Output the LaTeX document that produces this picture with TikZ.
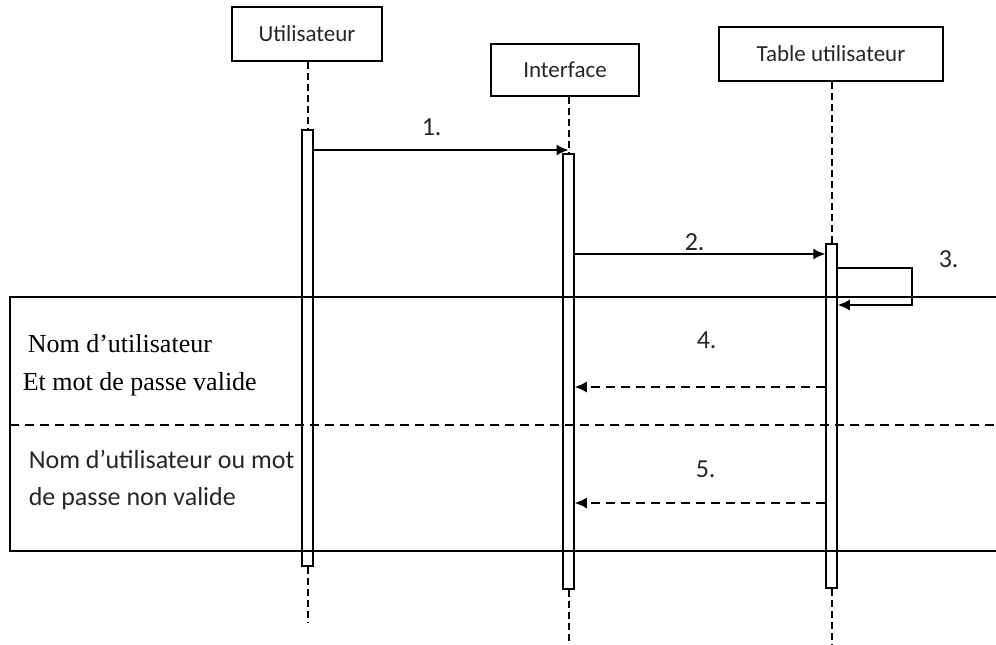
\documentclass[tikz,border=0pt]{standalone}
\usepackage{fontspec}
\setmainfont{Carlito}
\newfontfamily\timesfam{Liberation Serif}
\usetikzlibrary{arrows.meta}
\begin{document}
\begin{tikzpicture}[x=1pt,y=-1pt,
  line width=1.6pt,
  actor/.style={draw, rectangle, inner sep=0pt, line width=1.8pt, text=black!85, font=\fontsize{23}{27}\selectfont},
  bar/.style={draw, rectangle, minimum width=11pt, inner sep=0pt, line width=1.5pt},
  lifeline/.style={line width=2pt, dash pattern=on 7pt off 4pt},
  msg/.style={-{Latex[length=12pt,width=11pt]}},
  reply/.style={msg, dash pattern=on 9pt off 6pt},
  num/.style={anchor=base west, inner sep=0pt, text=black!85, font=\fontsize{26}{30}\selectfont},
  guard/.style={anchor=base west, inner sep=0pt, text=black!85, font=\fontsize{26}{30}\selectfont},
  guardserif/.style={anchor=base west, inner sep=0pt, font=\timesfam\fontsize{26}{30}\selectfont}]
\useasboundingbox (0,0) rectangle (996,645);

% participants
\node[actor, minimum width=150pt, minimum height=54pt] (u) at (307,34) {Utilisateur};
\node[actor, minimum width=148pt, minimum height=52pt] (i) at (565,70) {Interface};
\node[actor, minimum width=224pt, minimum height=54pt] (t) at (831,54) {Table utilisateur};

% activation bars
\node[bar, minimum height=436pt] (bu) at (307.5,348) {};
\node[bar, minimum height=435pt] (bi) at (568.5,371.5) {};
\node[bar, minimum height=344pt] (bt) at (831.5,416) {};

% lifeline ends
\coordinate (eu) at (307.5,622);
\coordinate (ei) at (568.5,645);
\coordinate (et) at (831.5,645);

\draw[lifeline] (u.south -| bu.north) -- (bu.north);
\draw[lifeline] (i.south -| bi.north) -- (bi.north);
\draw[lifeline] (t.south -| bt.north) -- (bt.north);
\draw[lifeline] (bu.south) -- (eu);
\draw[lifeline] (bi.south) -- (ei);
\draw[lifeline] (bt.south) -- (et);

% message levels
\coordinate (m1) at (0,150);
\coordinate (m2) at (0,254);
\coordinate (m3a) at (0,268);
\coordinate (m3b) at (0,305);
\coordinate (m4) at (0,387);
\coordinate (m5) at (0,503);
\coordinate (loop) at (912,0);

% messages
\draw[msg] (bu.east |- m1) -- (bi.north |- m1);
\draw[msg] (bi.east |- m2) -- (bt.west |- m2);
\draw[msg] (bt.east |- m3a) -- (loop |- m3a) -- (loop |- m3b) -- (bt.east |- m3b);
\draw[reply] (bt.west |- m4) -- (bi.east |- m4);
\draw[reply] (bt.west |- m5) -- (bi.east |- m5);

\node[num] (n1) at (421,135) {1.};
\node[num] (n2) at (684,250) {2.};
\node[num] (n3) at (938,267) {3.};
\node[num] (n4) at (696,348) {4.};
\node[num] (n5) at (695,477) {5.};

% alternative fragment
\coordinate (ftr) at (996,297);
\coordinate (ftl) at (10,297);
\coordinate (fbl) at (10,551);
\coordinate (fbr) at (996,551);
\coordinate (fml) at (10,425);
\coordinate (fmr) at (996,425);
\draw (ftr) -- (ftl) -- (fbl) -- (fbr);
\draw[dash pattern=on 9pt off 6pt] (fml) -- (fmr);

\node[guardserif] (g1) at (27,352) {Nom d’utilisateur};
\node[guardserif] (g2) at (22,390) {Et mot de passe valide};
\node[guard] (g3) at (28,468) {Nom d’utilisateur ou mot};
\node[guard] (g4) at (28,505) {de passe non valide};
\end{tikzpicture}
\end{document}
